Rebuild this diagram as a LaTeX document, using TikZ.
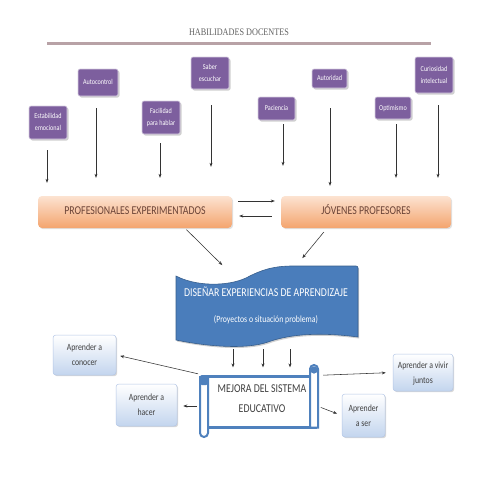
\documentclass[tikz,border=0pt]{standalone}
\usepackage{fontspec}
\setmainfont{Carlito}
\newfontfamily\titlefont{Liberation Serif}
\usepackage{graphicx}
\usetikzlibrary{shadows,arrows.meta}
\definecolor{purp}{HTML}{7D5F9E}
\definecolor{sblue}{HTML}{4F81BD}
\definecolor{wblue}{HTML}{4A7DBB}
\definecolor{tline}{HTML}{B8A2A6}
\definecolor{otop}{HTML}{FCE3D1}
\definecolor{obot}{HTML}{F4A46E}
\definecolor{otext}{HTML}{6B4437}
\definecolor{ltop}{HTML}{FFFFFF}
\definecolor{lbot}{HTML}{C3D5EE}
\definecolor{lborder}{HTML}{B4C7E7}
\definecolor{dgray}{HTML}{404040}
\newcommand{\sq}[1]{\scalebox{0.82}[1]{\begin{tabular}{@{}c@{}}#1\end{tabular}}}
\begin{document}
\begin{tikzpicture}[x=1pt,y=-1pt,
  arr/.style={-{Stealth[length=4pt,width=3pt]}, line width=0.55pt, draw=black!80},
  pbox/.style={rectangle, rounded corners=2pt, fill=purp, draw=white!70!purp, line width=0.6pt,
    text=white, font=\fontsize{7.5}{12}\selectfont, inner sep=0pt,
    drop shadow={shadow xshift=1.5pt,shadow yshift=-1.5pt,fill=black!30,opacity=0.6}},
  obox/.style={rectangle, rounded corners=4pt, top color=otop, bottom color=obot, draw=none,
    minimum height=32pt, text=otext, font=\fontsize{12}{14}\selectfont, inner sep=0pt,
    drop shadow={shadow xshift=1.2pt,shadow yshift=-1.2pt,fill=black!20,opacity=0.6}},
  lbox/.style={rectangle, rounded corners=3pt, top color=ltop, bottom color=lbot, draw=lborder,
    line width=0.5pt, text=dgray, font=\fontsize{9.5}{15}\selectfont, inner sep=0pt,
    drop shadow={shadow xshift=1.2pt,shadow yshift=-1.2pt,fill=black!25,opacity=0.6}},
  wtext/.style={text=white, inner sep=0pt}
]
\fill[white] (0,0) rectangle (480,480);
\useasboundingbox (0,0) rectangle (480,480);

% title
\node[text=black!62, font=\titlefont\fontsize{10}{12}\selectfont, inner sep=0pt] (title) at (239,33) {\sq{HABILIDADES DOCENTES}};
\draw[tline, line width=2.4pt] (47,43.5) -- (431,43.5);

% purple boxes
\node[pbox, minimum width=38pt, minimum height=33pt] (est) at (48,122.5) {\sq{Estabilidad\\emocional}};
\node[pbox, minimum width=40pt, minimum height=27pt] (auc) at (98,82.5) {\sq{Autocontrol}};
\node[pbox, minimum width=38pt, minimum height=33pt] (fac) at (161,117.5) {\sq{Facilidad\\para hablar}};
\node[pbox, minimum width=38pt, minimum height=32pt] (sab) at (210,73) {\sq{Saber\\escuchar}};
\node[pbox, minimum width=37pt, minimum height=23pt] (pac) at (276.5,108.5) {\sq{Paciencia}};
\node[pbox, minimum width=35pt, minimum height=19pt] (aut) at (329.5,78.5) {\sq{Autoridad}};
\node[pbox, minimum width=36pt, minimum height=22pt] (opt) at (393,108) {\sq{Optimismo}};
\node[pbox, minimum width=38pt, minimum height=36pt] (cur) at (434,75) {\sq{Curiosidad\\intelectual}};

% orange boxes
\node[obox, minimum width=194pt] (prof) at (135,212) {\sq{PROFESIONALES EXPERIMENTADOS}};
\node[obox, minimum width=170pt] (jov) at (366,212) {\sq{JÓVENES PROFESORES}};

% arrows purple -> orange
\draw[arr, shorten <=11pt, shorten >=13pt] ([xshift=-1pt]est.south) -- ([xshift=-88pt]prof.north);
\draw[arr, shorten <=12pt, shorten >=18pt] ([xshift=-2pt]auc.south) -- ([xshift=-39pt]prof.north);
\draw[arr, shorten <=9pt, shorten >=18pt] ([xshift=-1pt]fac.south) -- ([xshift=25pt]prof.north);
\draw[arr, shorten <=16pt, shorten >=29pt] ([xshift=1pt]sab.south) -- ([xshift=76pt]prof.north);
\draw[arr, shorten <=4pt, shorten >=30pt] ([xshift=6.5pt]pac.south) -- ([xshift=-83pt]jov.north);
\draw[arr, shorten <=20pt, shorten >=10pt] ([xshift=0.5pt]aut.south) -- ([xshift=-36pt]jov.north);
\draw[arr, shorten <=5pt, shorten >=18pt] ([xshift=3pt]opt.south) -- ([xshift=30pt]jov.north);
\draw[arr, shorten <=12pt, shorten >=18pt] ([xshift=4pt]cur.south) -- ([xshift=72pt]jov.north);

% double arrows
\draw[arr, shorten <=6pt, shorten >=6pt] ([yshift=11pt]prof.east) -- ([yshift=11pt]jov.west);
\draw[arr, shorten <=9pt, shorten >=7pt] ([yshift=-4pt]jov.west) -- ([yshift=-4pt]prof.east);

% wave shape
\path[fill=wblue, draw=wblue!75!black, line width=0.6pt,
  drop shadow={shadow xshift=1pt,shadow yshift=-1.5pt,fill=black!30,opacity=0.6}]
  (176,276) .. controls (195,286) and (226,287) .. (246,278)
  .. controls (261,270) and (273,266) .. (293,266) -- (356,266)
  .. controls (357.5,266) and (358,267) .. (358,268) -- (358,337)
  .. controls (320,332) and (290,334) .. (268,342)
  .. controls (245,350) and (205,346) .. (176,340) -- cycle;
\node[minimum width=182pt, minimum height=80pt, inner sep=0pt] (dis) at (267,306) {};
\node[wtext, font=\fontsize{12}{14}\selectfont] (dist) at (266,294) {\sq{DISEÑAR EXPERIENCIAS DE APRENDIZAJE}};
\node[wtext, font=\fontsize{9.5}{12}\selectfont] (disp) at (266,320) {\sq{(Proyectos o situación problema)}};

% arrows orange -> wave
\draw[arr, shorten <=2pt, shorten >=1pt] ([xshift=50pt]prof.south) -- ([xshift=-44pt]dis.north);
\draw[arr, shorten <=5pt, shorten >=10pt] ([xshift=-39pt]jov.south) -- ([xshift=29pt]dis.north);

% scroll
\node[draw=sblue, line width=2.2pt, fill=white, minimum width=110pt, minimum height=51pt, inner sep=0pt] (mej) at (261,402) {};
\draw[sblue, line width=2pt, fill=white] (310,427.5) -- (310,369) arc[start angle=180, end angle=360, radius=4] -- (318,427.5) -- cycle;
\fill[sblue] (314,370) circle[radius=3.6];
\draw[sblue, line width=2pt, fill=white] (208,377) -- (208,433) arc[start angle=0, end angle=180, radius=4] -- (200,377) -- cycle;
\fill[sblue, rounded corners=2pt] (200,375) rectangle (208,385);
\node[text=dgray, font=\fontsize{12}{20}\selectfont, inner sep=0pt] (mejt) at (262,398) {\sq{MEJORA DEL SISTEMA\\EDUCATIVO}};

% arrows wave -> scroll
\draw[arr, shorten <=3pt, shorten >=8pt] ([xshift=-34pt]dis.south) -- ([xshift=-28pt]mej.north);
\draw[arr, shorten <=3pt, shorten >=8pt] ([xshift=-4pt]dis.south) -- ([xshift=2pt]mej.north);
\draw[arr, shorten <=3pt, shorten >=8pt] ([xshift=23pt]dis.south) -- ([xshift=29pt]mej.north);

% light blue boxes
\node[lbox, minimum width=63pt, minimum height=40pt] (con) at (84.5,355) {\sq{Aprender a\\conocer}};
\node[lbox, minimum width=61pt, minimum height=42pt] (hac) at (146.5,405) {\sq{Aprender a\\hacer}};
\node[lbox, minimum width=60pt, minimum height=37pt] (viv) at (423,372.5) {\sq{Aprender a vivir\\juntos}};
\node[lbox, minimum width=43pt, minimum height=43pt] (ser) at (363.5,415.5) {\sq{Aprender\\a ser}};

% arrows scroll -> boxes
\draw[arr, shorten <=7pt, shorten >=4pt] (mej.north west) -- (con.east);
\draw[arr, shorten <=8pt, shorten >=6pt] ([yshift=-4pt]mej.west) -- ([yshift=-1pt]hac.east);
\draw[arr, shorten <=6pt, shorten >=7pt] (mej.north east) -- (viv.west);
\draw[arr, shorten <=4pt, shorten >=5pt] ([yshift=-4pt]mej.east) -- (ser.west);
\end{tikzpicture}
\end{document}
